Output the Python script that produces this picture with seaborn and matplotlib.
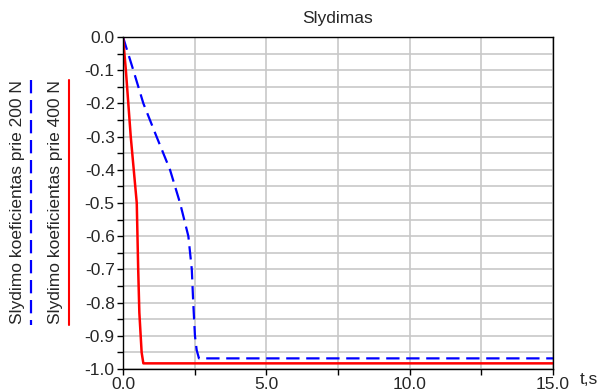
import matplotlib
matplotlib.use("Agg")
import matplotlib.pyplot as plt
import seaborn as sns
import pandas as pd
from matplotlib.lines import Line2D
from matplotlib.ticker import MultipleLocator, FormatStrFormatter

# 200 N series (blue dashed)
t_200 = [0.0, 0.36, 0.71, 1.17, 1.64, 1.99, 2.28, 2.40, 2.45, 2.51, 2.57, 2.65, 15.0]
mu_200 = [0.0, -0.1, -0.2, -0.3, -0.4, -0.5, -0.6, -0.7, -0.8, -0.9, -0.943, -0.968, -0.968]

# 400 N series (red solid)
t_400 = [0.0, 0.1, 0.27, 0.48, 0.53, 0.57, 0.65, 0.71, 15.0]
mu_400 = [0.0, -0.1, -0.3, -0.5, -0.7, -0.83, -0.95, -0.983, -0.983]

label_200 = "Slydimo koeficientas prie 200 N"
label_400 = "Slydimo koeficientas prie 400 N"

sns.set_style("white")
plt.rcParams["font.family"] = ["Liberation Sans", "DejaVu Sans"]
fs = 12.5

fig = plt.figure(figsize=(5.99, 3.91), dpi=100)
ax = fig.add_axes([123 / 599, 1 - 369 / 391, 430 / 599, 332 / 391])

df200 = pd.DataFrame({"t": t_200, "mu": mu_200})
df400 = pd.DataFrame({"t": t_400, "mu": mu_400})
sns.lineplot(data=df200, x="t", y="mu", ax=ax, color="#0000ff", linewidth=1.6,
             estimator=None, sort=False)
ax.lines[-1].set_dashes([6, 3])
sns.lineplot(data=df400, x="t", y="mu", ax=ax, color="#ff0000", linewidth=1.8,
             estimator=None, sort=False)

ax.set_xlim(0, 15)
ax.set_ylim(-1.0, 0.0)
ax.xaxis.set_major_locator(MultipleLocator(5))
ax.xaxis.set_minor_locator(MultipleLocator(2.5))
ax.yaxis.set_major_locator(MultipleLocator(0.1))
ax.yaxis.set_minor_locator(MultipleLocator(0.05))
ax.xaxis.set_major_formatter(FormatStrFormatter("%.1f"))
ax.yaxis.set_major_formatter(FormatStrFormatter("%.1f"))
ax.grid(True, which="both", color="#c8c8c8", linewidth=1.2)
ax.set_axisbelow(True)
ax.tick_params(which="both", direction="out", length=4, width=1, color="black",
               labelsize=fs, pad=2, left=True, bottom=True)
for s in ax.spines.values():
    s.set_color("black")
    s.set_linewidth(1)
ax.set_xlabel("")
ax.set_ylabel("")

fig.text(338 / 599, 1 - 19 / 391, "Slydimas", fontsize=fs, ha="center", va="center")
fig.text(589 / 599, 1 - 380 / 391, "t,s", fontsize=fs, ha="center", va="center")

# vertical legend-like labels on the left
fig.text(18 / 599, 1 - 202 / 391, label_200, rotation=90, fontsize=fs,
         ha="center", va="center")
fig.text(56 / 599, 1 - 202 / 391, label_400, rotation=90, fontsize=fs,
         ha="center", va="center")
fig.add_artist(Line2D([31 / 599, 31 / 599], [1 - 80 / 391, 1 - 325 / 391],
                      transform=fig.transFigure, color="#0000ff", linewidth=1.6,
                      dashes=[6, 3]))
fig.add_artist(Line2D([69 / 599, 69 / 599], [1 - 80 / 391, 1 - 325 / 391],
                      transform=fig.transFigure, color="#ff0000", linewidth=1.5))

fig.savefig("out.png", dpi=100)
